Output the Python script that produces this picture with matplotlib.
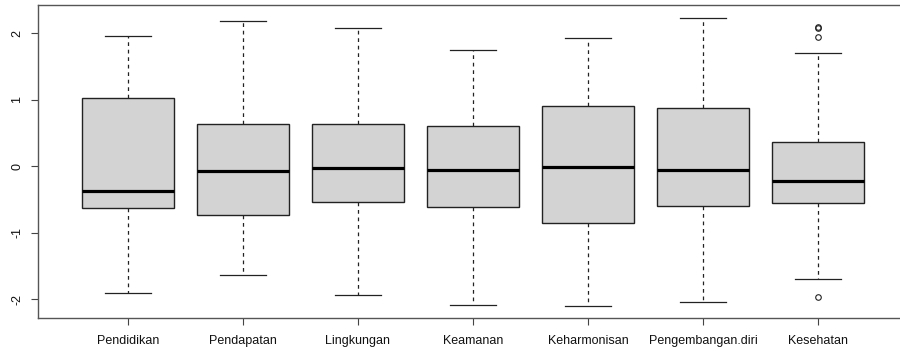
import matplotlib
matplotlib.use('Agg')
import matplotlib.pyplot as plt

plt.rcParams['font.family'] = ['Liberation Sans', 'DejaVu Sans']

labels = ['Pendidikan', 'Pendapatan', 'Lingkungan', 'Keamanan',
          'Keharmonisan', 'Pengembangan.diri', 'Kesehatan']
whisker_low = [-1.91, -1.64, -1.93, -2.08, -2.10, -2.04, -1.69]
q1 = [-0.63, -0.74, -0.54, -0.61, -0.85, -0.60, -0.545]
median = [-0.37, -0.07, -0.02, -0.057, -0.01, -0.057, -0.227]
q3 = [1.03, 0.63, 0.63, 0.61, 0.91, 0.88, 0.365]
whisker_high = [1.96, 2.18, 2.07, 1.745, 1.925, 2.23, 1.70]
outliers = [[], [], [], [], [], [], [2.08, 2.095, 1.94, -1.96]]

stats = []
for i in range(len(labels)):
    stats.append({'label': labels[i], 'whislo': whisker_low[i], 'q1': q1[i],
                  'med': median[i], 'q3': q3[i], 'whishi': whisker_high[i],
                  'fliers': outliers[i]})

fig = plt.figure(figsize=(9, 3.51), dpi=100)
ax = fig.add_axes([38.3 / 900, 33 / 351, 869.4 / 900, 312.7 / 351])

ax.bxp(stats, positions=range(1, 8), widths=0.8, capwidths=0.4,
       patch_artist=True,
       boxprops=dict(facecolor='#d3d3d3', edgecolor='#222222', linewidth=1.0),
       medianprops=dict(color='black', linewidth=2.3),
       whiskerprops=dict(color='#222222', linewidth=0.9, linestyle=(0, (3, 3))),
       capprops=dict(color='#222222', linewidth=0.9),
       flierprops=dict(marker='o', markersize=4, markerfacecolor='none',
                       markeredgecolor='#222222', markeredgewidth=0.8))

ax.set_xlim(0.22, 7.78)
ax.set_ylim(-2.279, 2.416)
ax.set_yticks([-2, -1, 0, 1, 2])
ax.set_yticklabels(['-2', '-1', '0', '1', '2'], rotation=90, va='center')
ax.set_xticks(range(1, 8))
ax.set_xticklabels(labels)
ax.tick_params(axis='both', labelsize=9, length=5, width=0.8,
               color='#444444', labelcolor='#111111')
ax.tick_params(axis='y', pad=6)
ax.tick_params(axis='x', pad=7)
for side in ['top', 'bottom', 'left', 'right']:
    ax.spines[side].set_color('#555555')
    ax.spines[side].set_linewidth(1.0)

fig.savefig('out.png', dpi=100)
